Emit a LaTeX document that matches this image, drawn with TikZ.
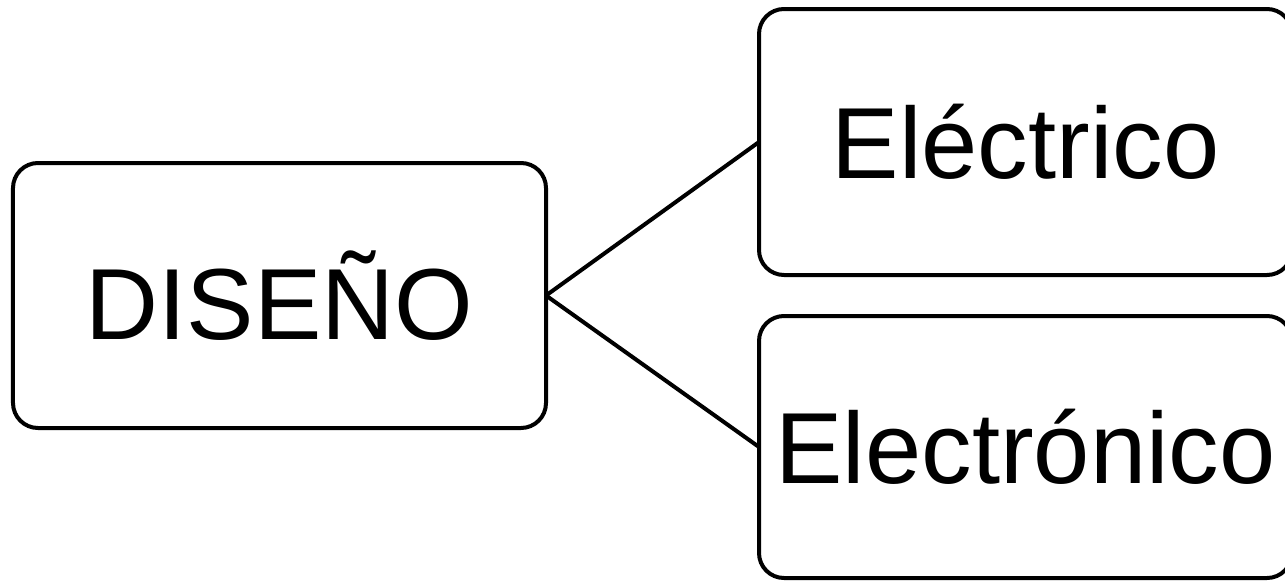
\documentclass[tikz,border=0pt]{standalone}
\usepackage{fontspec}
\setmainfont{Liberation Sans}
\usepackage{tikz}
\tikzset{
  areabox/.style={draw, line width=0.08cm, rounded corners=0.5cm, inner sep=0pt, outer sep=0pt, text centered, font=\fontsize{57.5}{69}\selectfont},
  branch/.style={line width=0.08cm}
}

\begin{document}
\begin{tikzpicture}%
\useasboundingbox (0,0) rectangle (25.700000, 11.620000);%
\node[areabox, minimum width=10.660000cm, minimum height=5.300000cm] (diseno) at (5.590000, 5.710000) {DISEÑO};%
\node[areabox, minimum width=10.660000cm, minimum height=5.320000cm] (electrico) at (20.510000, 8.780000) {Eléctrico};%
\node[areabox, minimum width=10.660000cm, minimum height=5.240000cm] (electronico) at (20.510000, 2.680000) {Electrónico};%
\draw[branch] (diseno.east) -- (electrico.west);%
\draw[branch] (diseno.east) -- (electronico.west);%
\end{tikzpicture}
\end{document}
